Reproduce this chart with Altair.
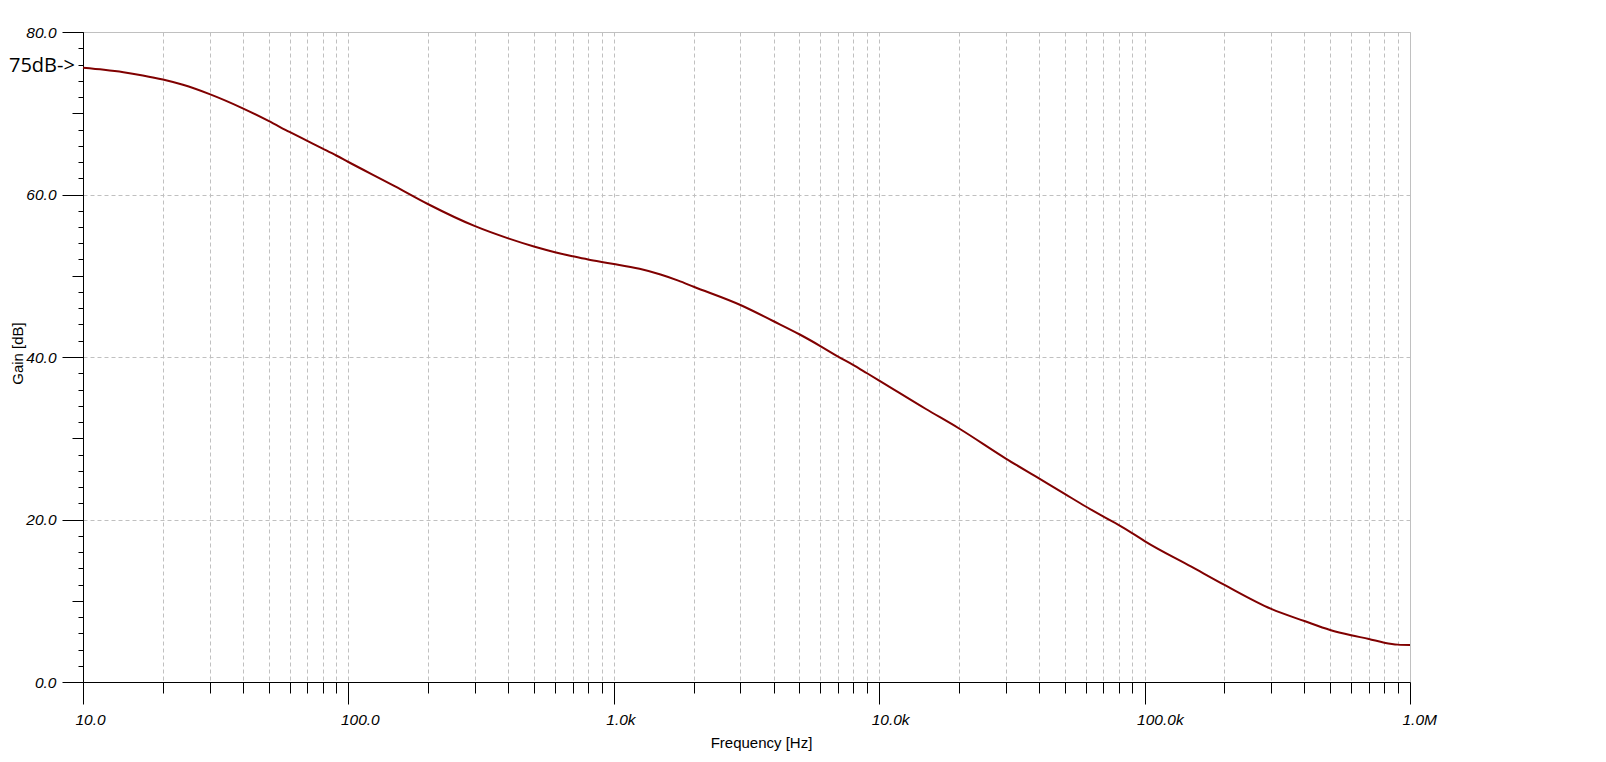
import altair as alt
import pandas as pd

# Frequency response
freq = [10, 12, 14.2, 16.8, 20, 23.8, 30, 40, 50, 60, 70, 80, 90,
        100, 150, 200, 300, 400, 500, 600, 700, 800, 900,
        1000, 1250, 1500, 1750, 2000, 3000, 4000, 5000, 6000, 7000, 8000, 9000,
        10000, 15000, 20000, 30000, 40000, 50000, 60000, 70000, 80000, 90000,
        100000, 150000, 200000, 300000, 400000, 500000, 600000, 700000, 800000, 900000,
        1000000]
gain = [75.6, 75.35, 75.05, 74.65, 74.15, 73.5, 72.35, 70.6, 69.05, 67.7, 66.6, 65.65, 64.8,
        64.0, 61.0, 58.8, 56.1, 54.6, 53.6, 52.9, 52.4, 52.0, 51.7,
        51.45, 50.85, 50.15, 49.4, 48.65, 46.4, 44.4, 42.8, 41.35, 40.05, 39.0, 38.0,
        37.1, 33.6, 31.2, 27.5, 25.05, 23.15, 21.6, 20.35, 19.3, 18.3,
        17.35, 14.2, 11.95, 9.0, 7.5, 6.4, 5.75, 5.3, 4.84, 4.6,
        4.55]

x_major = [10, 100, 1000, 10000, 100000, 1000000]
x_minor = [m * d for d in [10, 100, 1000, 10000, 100000] for m in range(2, 10)] + [100, 1000, 10000, 100000]
y_major = [0, 20, 40, 60, 80]
y_mid = [10, 30, 50, 70]
y_minor = list(range(0, 81, 2))

note_text = ["75dB->"]
note_y = [75]

df = pd.DataFrame({"freq": freq, "gain": gain})
note = pd.DataFrame({"label": note_text, "ny": note_y})

xs = alt.Scale(type="log", domain=[10, 1000000], nice=False)
ys = alt.Scale(domain=[0, 80], nice=False, zero=False)

GRID = "#c0c0c0"
LABFONT = "Liberation Sans"

label_expr = ("datum.value >= 1000000 ? format(datum.value/1000000, '.1f') + 'M' : "
              "datum.value >= 1000 ? format(datum.value/1000, '.1f') + 'k' : "
              "format(datum.value, '.1f')")

main = alt.Chart(df).mark_line(color="#800000", strokeWidth=2, interpolate="monotone").encode(
    x=alt.X("freq:Q", scale=xs, axis=alt.Axis(
        orient="bottom", values=x_major, tickSize=22, tickColor="#000", tickWidth=1,
        domain=True, domainColor="#000", domainWidth=1, grid=False,
        labelExpr=label_expr, labelFont=LABFONT, labelFontStyle="italic", labelFontSize=15.5,
        labelColor="#000", labelAlign="left", labelOffset=-8, labelBaseline="top",
        labelPadding=8, labelFlush=False, labelOverlap=False, labelBound=False,
        title="Frequency [Hz]", titleFont=LABFONT, titleFontSize=15, titleFontWeight="normal",
        titleColor="#000", titleX=678, titleY=60, titleAlign="center", titleBaseline="middle",
        titleAnchor="start")),
    y=alt.Y("gain:Q", scale=ys, axis=alt.Axis(
        orient="left", values=y_major, tickSize=21, tickColor="#000", tickWidth=1,
        domain=True, domainColor="#000", domainWidth=1,
        grid=True, gridColor=GRID, gridDash=[4, 3], gridWidth=1,
        format=".1f", labelFont=LABFONT, labelFontStyle="italic", labelFontSize=15.5,
        labelColor="#000", labelPadding=6, labelBaseline="middle", labelOverlap=False,
        labelFlush=False, labelBound=False,
        title="Gain [dB]", titleFont=LABFONT, titleFontSize=15, titleFontWeight="normal",
        titleColor="#000", titleX=-66, titleY=321, titleAngle=270, titleAlign="center",
        titleBaseline="middle")),
)

minor_x = alt.Chart(df).mark_line(opacity=0).encode(
    x=alt.X("freq:Q", scale=xs, axis=alt.Axis(
        orient="bottom", values=x_minor, tickSize=11, tickColor="#000", tickWidth=1,
        domain=False, labels=False, title=None,
        grid=True, gridColor=GRID, gridDash=[4, 3], gridWidth=1)),
    y=alt.Y("gain:Q", scale=ys, axis=alt.Axis(
        orient="left", values=y_mid, tickSize=11, tickColor="#000", tickWidth=1,
        domain=False, labels=False, title=None, grid=False)),
)

minor_y = alt.Chart(df).mark_line(opacity=0).encode(
    x=alt.X("freq:Q", scale=xs, axis=None),
    y=alt.Y("gain:Q", scale=ys, axis=alt.Axis(
        orient="left", values=y_minor, tickSize=5, tickColor="#000", tickWidth=1,
        domain=False, labels=False, title=None, grid=False)),
)

annot = alt.Chart(note).mark_text(
    align="left", baseline="alphabetic", font="Open Sans", fontSize=20, color="#000", dy=-1
).encode(
    x=alt.value(-74),
    y=alt.Y("ny:Q", scale=ys, axis=None),
    text="label:N",
)

chart = alt.layer(minor_y, minor_x, main, annot).resolve_axis(
    x="independent", y="independent"
).properties(
    width=1327, height=650,
    autosize=alt.AutoSizeParams(type="none"),
    padding={"left": 75, "top": 24, "right": 150, "bottom": 72},
    background="white",
).configure_view(stroke=GRID, strokeWidth=1)

chart.save("out.html", embed_options={"renderer": "svg", "actions": False})
